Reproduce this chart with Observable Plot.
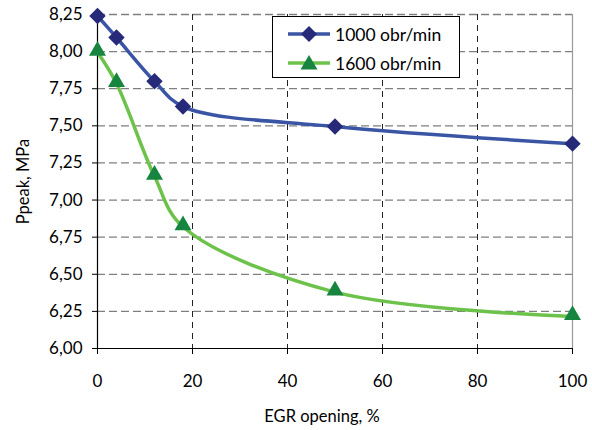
<!DOCTYPE html>
<html><head><meta charset="utf-8">
<script src="https://cdn.jsdelivr.net/npm/d3@7"></script>
<script src="https://cdn.jsdelivr.net/npm/@observablehq/plot@0.6"></script>
<style>
body{margin:0;background:#fff;}
#chart{position:relative;width:592px;height:430px;font-family:Lato,"Open Sans",sans-serif;}
#legend{position:absolute;left:272px;top:16px;width:186px;height:60px;border:1px solid #000;background:#fff;}
.row{position:absolute;left:0;height:24px;display:flex;align-items:center;}
.row span{font-size:17.5px;color:#000;margin-left:4px;}
</style>
</head><body><div id="chart"></div>
<script>
// data
const egrOpening = [0, 4, 12, 18, 50, 100];
const ppeak1000 = [8.24, 8.095, 7.80, 7.63, 7.495, 7.38];
const ppeak1600 = [7.995, 7.785, 7.16, 6.82, 6.38, 6.215];
const seriesNames = ["1000 obr/min", "1600 obr/min"];
const xTicks = [0, 20, 40, 60, 80, 100];
const yTicks = [6.00, 6.25, 6.50, 6.75, 7.00, 7.25, 7.50, 7.75, 8.00, 8.25];
const xTitle = "EGR opening, %";
const yTitle = "Ppeak, MPa";

const colors = {line1000: "#3b55a5", mark1000: "#262a78", line1600: "#6cc24a", mark1600: "#178540"};

const rows1000 = egrOpening.map((x, i) => ({x, y: ppeak1000[i]}));
const rows1600 = egrOpening.map((x, i) => ({x, y: ppeak1600[i]}));
const fmt = d => d.toFixed(2).replace(".", ",");

const plot = Plot.plot({
  width: 592, height: 430,
  marginLeft: 97, marginRight: 20, marginTop: 14, marginBottom: 82,
  style: {fontFamily: "Lato, 'Open Sans', sans-serif", fontSize: "17px", color: "#000", background: "#fff"},
  x: {domain: [0, 100]},
  y: {domain: [6, 8.25]},
  marks: [
    Plot.gridY(yTicks.slice(1), {stroke: "#7f7f7f", strokeOpacity: 1, strokeWidth: 1.3, strokeDasharray: "8,4"}),
    Plot.gridX(xTicks.slice(1, -1), {stroke: "#222", strokeOpacity: 1, strokeWidth: 1, strokeDasharray: "6,5"}),
    Plot.ruleX([100], {stroke: "#9a9a9a", strokeWidth: 1.2}),
    Plot.axisY(yTicks, {tickFormat: fmt, tickSize: 5, tickPadding: 10, label: null, fontSize: 17}),
    Plot.axisX(xTicks, {tickSize: 6, tickPadding: 20, label: null, fontSize: 17}),
    Plot.text([yTitle], {frameAnchor: "left", dx: -74, rotate: -90, fontSize: 16.5, fill: "#000", lineAnchor: "middle", textAnchor: "middle"}),
    Plot.text([xTitle], {frameAnchor: "bottom", dx: -13, dy: 68, fontSize: 16.5, fill: "#000", lineAnchor: "middle"}),
    Plot.ruleX([0], {stroke: "#000", strokeWidth: 1.2}),
    Plot.ruleY([6], {stroke: "#000", strokeWidth: 1.2}),
    Plot.line(rows1600, {x: "x", y: "y", curve: "catmull-rom", stroke: colors.line1600, strokeWidth: 3.5}),
    Plot.line(rows1000, {x: "x", y: "y", curve: "catmull-rom", stroke: colors.line1000, strokeWidth: 3.5}),
    Plot.dot(rows1600, {x: "x", y: "y", symbol: "triangle", r: 6.3, fill: colors.mark1600, stroke: "none", dy: -1.5}),
    Plot.dot(rows1000, {x: "x", y: "y", symbol: "diamond2", r: 7.4, fill: colors.mark1000, stroke: "none"})
  ]
});
const chart = document.getElementById("chart");
chart.appendChild(plot);

// legend
const legend = document.createElement("div");
legend.id = "legend";
const specs = [
  {name: seriesNames[0], line: colors.line1000, mark: colors.mark1000, shape: "diamond"},
  {name: seriesNames[1], line: colors.line1600, mark: colors.mark1600, shape: "triangle"}
];
specs.forEach((s, i) => {
  const row = document.createElement("div");
  row.className = "row";
  row.style.top = (5 + i * 29) + "px";
  const shape = s.shape === "diamond"
    ? `<path d="M38,4 L46,12 L38,20 L30,12 Z" fill="${s.mark}"/>`
    : `<path d="M38,4 L46.5,18.5 L29.5,18.5 Z" fill="${s.mark}"/>`;
  row.innerHTML = `<svg width="60" height="24" style="margin-left:-2px"><line x1="17" x2="59" y1="12" y2="12" stroke="${s.line}" stroke-width="3.5"/>${shape}</svg><span>${s.name}</span>`;
  legend.appendChild(row);
});
chart.appendChild(legend);
</script>
</body></html>
